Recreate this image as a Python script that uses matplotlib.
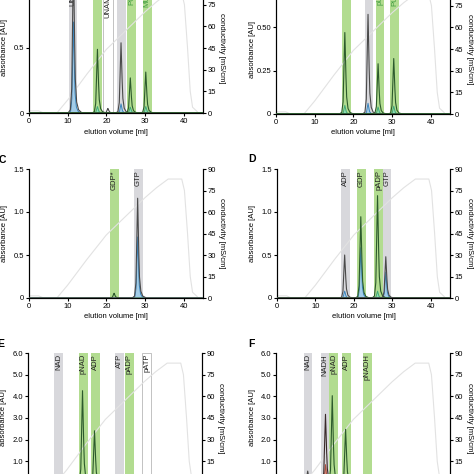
import numpy as np
import matplotlib
matplotlib.use('Agg')
import matplotlib.pyplot as plt
from matplotlib import transforms

# conductivity gradient (same run for all panels)
grad_ml = [0, 2.5, 3.5, 7.3, 10, 15, 20, 25, 30, 33, 36, 39.5, 40.2, 41, 41.7, 42.3, 43.5]
grad_ms = [1.5, 1.5, 0.3, 0.3, 9, 27, 44, 57, 70, 77, 83, 83, 75, 45, 15, 4, 1]

x_ticks = [0, 10, 20, 30, 40]
cond_ticks = [0, 15, 30, 45, 60, 75, 90]

# panel A
a_band_lo = [10.4, 16.5, 19.1, 22.8, 25.4, 29.5]
a_band_hi = [12.5, 18.9, 21.7, 25.0, 27.6, 31.7]
a_band_kind = ['gray', 'green', 'white', 'gray', 'green', 'green']
a_band_txt = ['UNAG', 'Pi', 'UNAM-pp', '', 'PUNA', 'MUNA']
a_peak_ml = [11.5, 17.7, 20.4, 23.8, 26.2, 30.2]
a_peak_h = [1.25, 0.49, 0.035, 0.54, 0.27, 0.315]
a_peak_kind = ['g', 'p', 'g', 'g', 'p', 'p']
a_sub_h = [0.70, 0.05, 0.0, 0.07, 0.045, 0.05]
a_sub_kind = ['b', 'l', 'b', 'b', 'l', 'l']
a_yticks = [0, 0.5, 1.0]
a_ylabels = ['0', '0.5', '1.0']

# panel B
b_band_lo = [17.0, 23.0, 25.8, 29.6]
b_band_hi = [19.3, 25.1, 27.9, 31.8]
b_band_kind = ['green', 'gray', 'green', 'green']
b_band_txt = ['Pi', '', 'pUNA', 'PUNA']
b_peak_ml = [17.8, 23.8, 26.4, 30.45]
b_peak_h = [0.47, 0.575, 0.29, 0.32]
b_peak_kind = ['p', 'g', 'p', 'p']
b_sub_h = [0.05, 0.062, 0.04, 0.045]
b_sub_kind = ['l', 'b', 'l', 'l']
b_yticks = [0, 0.25, 0.5, 0.75]
b_ylabels = ['0', '0.25', '0.50', '0.75']

# panel C
c_band_lo = [21.0, 27.2]
c_band_hi = [23.2, 29.4]
c_band_kind = ['green', 'gray']
c_band_txt = ['GDP*', 'GTP']
c_peak_ml = [22.0, 28.1]
c_peak_h = [0.055, 1.16]
c_peak_kind = ['p', 'g']
c_sub_h = [0.0, 0.71]
c_sub_kind = ['l', 'b']

# panel D
d_band_lo = [16.7, 20.8, 25.3, 27.7]
d_band_hi = [18.9, 23.2, 27.7, 29.7]
d_band_kind = ['gray', 'green', 'green', 'gray']
d_band_txt = ['ADP', 'GDP', 'pADP', 'GTP']
d_peak_ml = [17.6, 21.8, 26.15, 28.3]
d_peak_h = [0.50, 0.945, 1.19, 0.48]
d_peak_kind = ['g', 'p', 'p', 'g']
d_sub_h = [0.08, 0.585, 0.08, 0.30]
d_sub_kind = ['b', 'b', 'l', 'b']
cd_yticks = [0, 0.5, 1.0, 1.5]
cd_ylabels = ['0', '0.5', '1.0', '1.5']

# panel E
e_band_lo = [6.8, 13.1, 16.4, 22.6, 25.0, 29.5]
e_band_hi = [9.0, 15.4, 18.7, 24.8, 27.4, 31.9]
e_band_kind = ['gray', 'green', 'green', 'gray', 'green', 'white']
e_band_txt = ['NAD', 'pNAD', 'ADP', 'ATP', 'pADP', 'pATP']
e_peak_ml = [14.1, 17.2]
e_peak_h = [4.26, 2.41]
e_peak_kind = ['p', 'p']
e_sub_h = [0.0, 0.0]
e_sub_kind = ['l', 'l']

# panel F
f_band_lo = [7.2, 11.7, 13.8, 17.1, 22.4]
f_band_hi = [9.35, 13.8, 16.0, 19.4, 24.7]
f_band_kind = ['gray', 'gray', 'green', 'green', 'green']
f_band_txt = ['NAD', 'NADH', 'pNAD', 'ADP', 'pNADH']
f_peak_ml = [8.2, 12.8, 14.55, 18.0]
f_peak_h = [0.55, 3.17, 4.03, 2.48]
f_peak_kind = ['g', 'r', 'p', 'p']
f_sub_h = [0.0, 0.85, 0.0, 0.0]
f_sub_kind = ['b', 'r', 'l', 'l']
ef_yticks = [0, 1, 2, 3, 4, 5, 6]
ef_ylabels = ['0', '1.0', '2.0', '3.0', '4.0', '5.0', '6.0']

# shape of one chromatographic peak (relative)
PEAK_DX = np.array([-1.4, -0.8, -0.45, -0.2, 0.0, 0.2, 0.45, 0.8, 1.3, 2.2])
PEAK_REL = np.array([0, 0.02, 0.15, 0.6, 1.0, 0.6, 0.22, 0.07, 0.02, 0])

band_col = {'gray': '#d8d8dc', 'green': '#b2dc90', 'white': 'white'}
line_col = {'g': '#4a4a4a', 'p': '#2c5a2c', 'r': '#3a2a2a'}
fill_col = {'b': ('#a3cde8', '#3b85bd'), 'l': ('#8edcb6', '#40a878'), 'r': ('#d98a78', '#b0503f')}

FS = 5.5
plt.rcParams['font.family'] = ['Liberation Sans', 'DejaVu Sans']

W = 474.0
fig = plt.figure(figsize=(4.74, 4.74), dpi=100)

xs = np.linspace(0, 45, 1801)


def make_panel(left, right, top, bottom, ylim, yt, ytl, lo, hi, kinds, txt, pk_ml, pk_h, pk_kind,
               sub_h, sub_kind, green_txt=False, letter=None, lx=0, ly=0):
    rect = [left / W, (W - bottom) / W, (right - left) / W, (bottom - top) / W]
    ax = fig.add_axes(rect)
    ax2 = ax.twinx()
    ax.set_zorder(ax2.get_zorder() + 1)
    ax.patch.set_visible(False)

    for l, h, k in zip(lo, hi, kinds):
        if k == 'white':
            ax2.axvspan(l, h, facecolor='white', edgecolor='#b8b8b8', lw=0.6, zorder=0)
        else:
            ax2.axvspan(l, h, facecolor=band_col[k], edgecolor='none', zorder=0)
    ax2.plot(grad_ml, grad_ms, color='#e2e2e2', lw=0.8, zorder=1)
    ax2.set_ylim(0, 90)
    ax2.set_yticks(cond_ticks)
    ax2.set_ylabel('conductivity [mS/cm]', rotation=270, fontsize=FS)

    trans = transforms.blended_transform_factory(ax.transData, ax.transAxes)
    for l, h, k, t in zip(lo, hi, kinds, txt):
        c = '#222222'
        if green_txt and k == 'green':
            c = '#3c9a3c'
        ax.text((l + h) / 2, 1 - 1.0 / (bottom - top), t, rotation=90, ha='center', va='top',
                fontsize=FS, color=c, transform=trans)

    for c, h, k, sh, sk in zip(pk_ml, pk_h, pk_kind, sub_h, sub_kind):
        if sh > 0:
            ys = np.interp(xs, c + PEAK_DX * 0.9, sh * PEAK_REL, left=0, right=0)
            fc, ec = fill_col[sk]
            ax.fill_between(xs, ys, color=fc, lw=0, zorder=2)
            ax.plot(xs, ys, color=ec, lw=0.7, zorder=3)
        ys = np.interp(xs, c + PEAK_DX, h * PEAK_REL, left=0, right=0)
        ax.plot(xs, ys, color=line_col[k], lw=0.8, zorder=4)

    ax.set_xlim(0, 45)
    ax.set_ylim(*ylim)
    ax.set_xticks(x_ticks)
    ax.set_yticks(yt)
    ax.set_yticklabels(ytl)
    ax.set_ylabel('absorbance [AU]', fontsize=FS)
    ax.set_xlabel('elution volume [ml]', fontsize=FS)

    wpx = right - left
    hpx = bottom - top
    ax.yaxis.set_label_coords(-24 / wpx, 0.5)
    ax.yaxis.label.set_va('center')
    ax2.yaxis.set_label_coords((wpx + 19) / wpx, 0.5)
    ax2.yaxis.label.set_va('center')
    ax.xaxis.set_label_coords(0.5, -19 / hpx)
    ax.xaxis.label.set_va('center')

    for a in (ax, ax2):
        a.spines['top'].set_visible(False)
        for s in a.spines.values():
            s.set_linewidth(0.8)
        a.tick_params(direction='out', length=2, width=0.8, labelsize=FS, pad=1.5)

    if letter:
        fig.text(lx / W, (W - ly) / W, letter, fontsize=7.5, fontweight='bold',
                 ha='left', va='center')
    return ax


make_panel(29, 203, -17, 113, (0, 1.0), a_yticks, a_ylabels, a_band_lo, a_band_hi, a_band_kind,
           a_band_txt, a_peak_ml, a_peak_h, a_peak_kind, a_sub_h, a_sub_kind, green_txt=True)
make_panel(276, 450, -16, 114, (0, 0.75), b_yticks, b_ylabels, b_band_lo, b_band_hi, b_band_kind,
           b_band_txt, b_peak_ml, b_peak_h, b_peak_kind, b_sub_h, b_sub_kind, green_txt=True)
make_panel(29, 203, 169, 298, (0, 1.5), cd_yticks, cd_ylabels, c_band_lo, c_band_hi, c_band_kind,
           c_band_txt, c_peak_ml, c_peak_h, c_peak_kind, c_sub_h, c_sub_kind,
           letter='C', lx=-1, ly=160)
make_panel(277, 450, 169, 298, (0, 1.5), cd_yticks, cd_ylabels, d_band_lo, d_band_hi, d_band_kind,
           d_band_txt, d_peak_ml, d_peak_h, d_peak_kind, d_sub_h, d_sub_kind,
           letter='D', lx=248, ly=159)
make_panel(28, 202, 353, 483, (0, 6.0), ef_yticks, ef_ylabels, e_band_lo, e_band_hi, e_band_kind,
           e_band_txt, e_peak_ml, e_peak_h, e_peak_kind, e_sub_h, e_sub_kind,
           letter='E', lx=-3, ly=344)
make_panel(276, 450, 353, 483, (0, 6.0), ef_yticks, ef_ylabels, f_band_lo, f_band_hi, f_band_kind,
           f_band_txt, f_peak_ml, f_peak_h, f_peak_kind, f_sub_h, f_sub_kind,
           letter='F', lx=248, ly=344)

fig.savefig('out.png', dpi=100)
